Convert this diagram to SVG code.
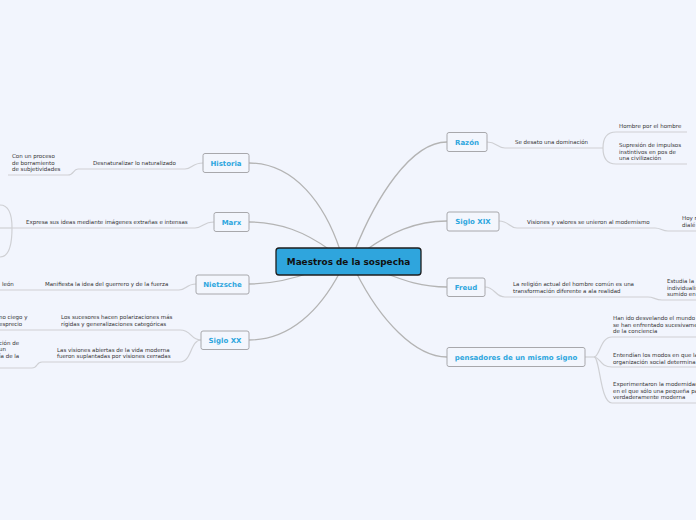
<svg xmlns="http://www.w3.org/2000/svg" width="696" height="520" viewBox="0 0 696 520">
<style>
.bg{fill:#f2f5fd}
.main{fill:none;stroke:#b4b4b4;stroke-width:1.3}
.sub{fill:none;stroke:#cfd0d4;stroke-width:1.2}
.node rect{fill:#f3f6fd;stroke:#a8a8ac;stroke-width:1}
.nt{font-family:"DejaVu Sans",Verdana,sans-serif;font-weight:bold;font-size:7px;fill:#2ea6de;text-anchor:middle}
.t{font-family:"DejaVu Sans",Verdana,sans-serif;font-size:5.5px;fill:#333}
</style>
<rect class="bg" x="0" y="0" width="696" height="520"/>
<g id="connectors">
<path class="main" d="M340,250 C325,205 295,163 249,163"/>
<path class="main" d="M330,250 C305,232 280,222 249,222"/>
<path class="main" d="M312,272 C290,280 272,284 249,284"/>
<path class="main" d="M340,272 C320,310 290,340 249,340"/>
<path class="main" d="M355,250 C375,200 410,142 447,142"/>
<path class="main" d="M366,250 C390,233 415,221 447,221"/>
<path class="main" d="M382,272 C405,281 422,287 447,287"/>
<path class="main" d="M356,272 C380,320 415,357 447,357"/>
<path class="sub" d="M203,163 C192,163 192,169 185,169 L78,169 C73,169 74,175 68,175 L8,175"/>
<path class="sub" d="M214,222 C203,222 203,228 195,228 L12,228"/>
<path class="sub" d="M12,228 C12,212 8,205 0,205"/>
<path class="sub" d="M12,228 C12,246 8,257 0,257"/>
<path class="sub" d="M12,228 L0,228"/>
<path class="sub" d="M196,284 C186,284 186,290 179,290 L0,290"/>
<path class="sub" d="M201,340 C190,340 192,330 180,330 L0,330"/>
<path class="sub" d="M201,340 C190,340 192,362 180,362 L42,362 C36,362 38,368 32,368 L0,368"/>
<path class="sub" d="M487,142 C497,142 497,148 505,148 L603,148"/>
<path class="sub" d="M603,148 C603,137 607,132 616,132 L687,132"/>
<path class="sub" d="M603,148 C603,159 607,164 616,164 L687,164"/>
<path class="sub" d="M499,221 C509,221 509,228 517,228 L655,228 C661,228 662,231 668,231 L696,231"/>
<path class="sub" d="M485,287 C495,287 495,297 505,297 L648,297 C654,297 655,300 662,300 L696,300"/>
<path class="sub" d="M585,357 L594,357"/>
<path class="sub" d="M594,357 C600,357 600,337 612,337 L696,337"/>
<path class="sub" d="M594,357 C600,357 600,367 612,367 L696,367"/>
<path class="sub" d="M594,357 C600,357 600,403 612,403 L696,403"/>
</g>
<g id="central">
<rect x="276" y="248" width="145" height="27" rx="3" fill="#2fa5dd" stroke="#1e1e1e" stroke-width="1.3"/>
<text x="348.5" y="265" font-family="DejaVu Sans,Verdana,sans-serif" font-weight="bold" font-size="8.9" fill="#111" text-anchor="middle">Maestros de la sospecha</text>
</g>
<g id="historia" class="node"><rect x="203" y="153.5" width="46" height="19" rx="2"/><text class="nt" x="226" y="165.5">Historia</text></g>
<g id="marx" class="node"><rect x="214" y="212.5" width="35" height="19" rx="2"/><text class="nt" x="231.5" y="224.5">Marx</text></g>
<g id="nietzsche" class="node"><rect x="196" y="275" width="53" height="19" rx="2"/><text class="nt" x="222.5" y="287">Nietzsche</text></g>
<g id="sigloxx" class="node"><rect x="201" y="331" width="48" height="18.5" rx="2"/><text class="nt" x="225" y="343">Siglo XX</text></g>
<g id="razon" class="node"><rect x="447" y="132.5" width="40" height="19" rx="2"/><text class="nt" x="467" y="144.5">Razón</text></g>
<g id="sigloxix" class="node"><rect x="447" y="212" width="52" height="19" rx="2"/><text class="nt" x="473" y="224">Siglo XIX</text></g>
<g id="freud" class="node"><rect x="447" y="278" width="38" height="18.5" rx="2"/><text class="nt" x="466" y="290">Freud</text></g>
<g id="pensadores" class="node"><rect x="447" y="347.5" width="138" height="19" rx="2"/><text class="nt" x="516" y="359.5">pensadores de un mismo signo</text></g>
<g id="labels">
<text class="t" x="93" y="165">Desnaturalizar lo naturalizado</text>
<text class="t" x="12" y="158">Con un proceso</text>
<text class="t" x="12" y="164.5">de borramiento</text>
<text class="t" x="12" y="171">de subjetividades</text>
<text class="t" x="26" y="224">Expresa sus ideas mediante imágenes extrañas e intensas</text>
<text class="t" x="45" y="286">Manifiesta la idea del guerrero y de la fuerza</text>
<text class="t" x="2" y="286">león</text>
<text class="t" x="61" y="319">Los sucesores hacen polarizaciones más</text>
<text class="t" x="61" y="325.5">rígidas y generalizaciones categóricas</text>
<text class="t" x="-1" y="319">no ciego y</text>
<text class="t" x="-1" y="325.5">esprecio</text>
<text class="t" x="57" y="351.5">Las visiones abiertas de la vida moderna</text>
<text class="t" x="57" y="358">fueron suplantadas por visiones cerradas</text>
<text class="t" x="-1" y="344.5">ción de</text>
<text class="t" x="-1" y="351">un</text>
<text class="t" x="-1" y="357.5">ía de la</text>
<text class="t" x="515" y="144">Se desato una dominación</text>
<text class="t" x="619" y="128">Hombre por el hombre</text>
<text class="t" x="619" y="147">Supresión de impulsos</text>
<text class="t" x="619" y="153.5">instintivos en pos de</text>
<text class="t" x="619" y="160">una civilización</text>
<text class="t" x="527" y="224">Visiones y valores se unieron al modernismo</text>
<text class="t" x="682" y="220">Hoy r</text>
<text class="t" x="682" y="226.5">dialé</text>
<text class="t" x="513" y="286">La religión actual del hombre común es una</text>
<text class="t" x="513" y="292.5">transformación diferente a ala realidad</text>
<text class="t" x="667" y="283">Estudia la</text>
<text class="t" x="667" y="289.5">individualis</text>
<text class="t" x="667" y="296">sumido en</text>
<text class="t" x="613" y="320">Han ido desvelando el mundo</text>
<text class="t" x="613" y="326.5">se han enfrentado sucesivame</text>
<text class="t" x="613" y="333">de la conciencia</text>
<text class="t" x="613" y="357">Entendían los modos en que la</text>
<text class="t" x="613" y="363.5">organización social determina</text>
<text class="t" x="613" y="386">Experimentaron la modernidad</text>
<text class="t" x="613" y="392.5">en el que sólo una pequeña pa</text>
<text class="t" x="613" y="399">verdaderamente moderna</text>
</g>
</svg>
